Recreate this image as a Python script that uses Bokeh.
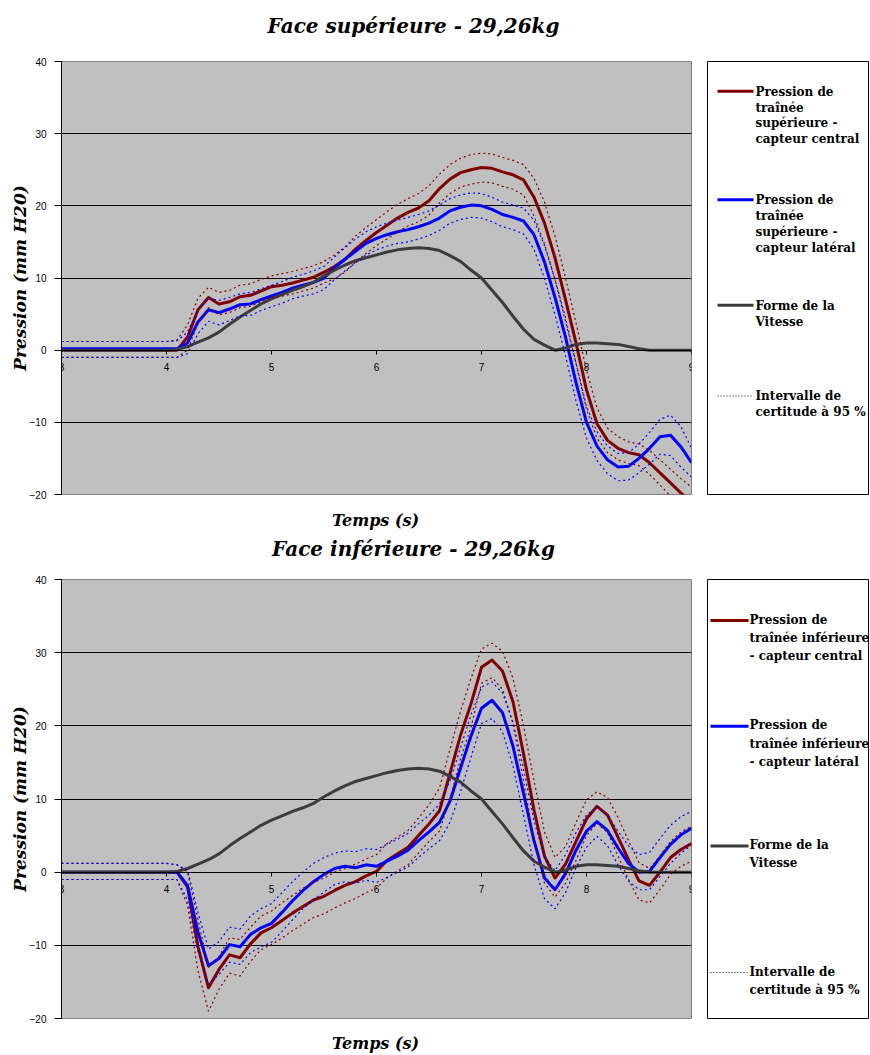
from bokeh.core.properties import value
from bokeh.embed import file_html
from bokeh.layouts import column, row
from bokeh.models import FixedTicker, Range1d
from bokeh.plotting import figure
from bokeh.resources import INLINE

# Time axis (s)
time_s = [3.0, 3.1, 3.2, 3.3, 3.4, 3.5, 3.6, 3.7, 3.8, 3.9,
          4.0, 4.1, 4.2, 4.3, 4.4, 4.5, 4.6, 4.7, 4.8, 4.9,
          5.0, 5.1, 5.2, 5.3, 5.4, 5.5, 5.6, 5.7, 5.8, 5.9,
          6.0, 6.1, 6.2, 6.3, 6.4, 6.5, 6.6, 6.7, 6.8, 6.9,
          7.0, 7.1, 7.2, 7.3, 7.4, 7.5, 7.6, 7.7, 7.8, 7.9,
          8.0, 8.1, 8.2, 8.3, 8.4, 8.5, 8.6, 8.7, 8.8, 8.9, 9.0]

# Speed profile shape (same on both faces)
speed_shape = [0.0, 0.0, 0.0, 0.0, 0.0, 0.0, 0.0, 0.0, 0.0, 0.0,
               0.0, 0.1, 0.5, 1.1, 1.7, 2.5, 3.6, 4.6, 5.5, 6.4,
               7.1, 7.7, 8.3, 8.8, 9.4, 10.3, 11.1, 11.8, 12.4, 12.8,
               13.2, 13.6, 13.9, 14.1, 14.2, 14.1, 13.8, 13.1, 12.3, 11.1,
               10.0, 8.3, 6.6, 4.7, 2.9, 1.5, 0.7, 0.0, 0.3, 0.8,
               1.0, 1.0, 0.9, 0.8, 0.5, 0.2, 0.0, 0.0, 0.0, 0.0, 0.0]

# Upper face - central sensor (mm H2O) with 95 % bounds
sup_central = [0.0, 0.0, 0.0, 0.0, 0.0, 0.0, 0.0, 0.0, 0.0, 0.0,
               0.0, 0.0, 1.8, 5.6, 7.3, 6.4, 6.7, 7.4, 7.6, 8.2,
               8.8, 9.0, 9.3, 9.7, 10.1, 10.8, 11.6, 12.6, 14.0, 15.2,
               16.3, 17.3, 18.3, 19.1, 19.7, 20.7, 22.4, 23.7, 24.6, 25.0,
               25.3, 25.2, 24.7, 24.3, 23.6, 21.2, 17.6, 12.8, 7.0, 1.0,
               -5.5, -10.2, -12.5, -13.6, -14.2, -14.5, -15.6, -17.0, -18.4, -19.8, -21.0]
sup_central_hi = [1.2, 1.2, 1.2, 1.2, 1.2, 1.2, 1.2, 1.2, 1.2, 1.2,
                  1.2, 1.4, 3.5, 7.2, 8.7, 8.0, 8.3, 9.0, 9.2, 9.8,
                  10.3, 10.6, 10.9, 11.3, 11.7, 12.3, 13.2, 14.3, 15.8, 17.0,
                  18.1, 19.2, 20.2, 21.0, 21.7, 22.8, 24.4, 25.7, 26.6, 27.1,
                  27.3, 27.2, 26.7, 26.3, 25.7, 23.8, 20.5, 15.8, 10.0, 3.8,
                  -2.8, -8.0, -10.8, -12.0, -12.7, -13.0, -13.9, -15.2, -16.5, -17.8, -19.0]
sup_central_lo = [-1.0, -1.0, -1.0, -1.0, -1.0, -1.0, -1.0, -1.0, -1.0, -1.0,
                  -1.0, -1.0, 0.0, 3.8, 5.9, 4.9, 5.2, 5.9, 6.1, 6.7,
                  7.3, 7.5, 7.8, 8.2, 8.6, 9.3, 9.9, 10.8, 12.2, 13.4,
                  14.5, 15.4, 16.4, 17.2, 17.8, 18.7, 20.4, 21.7, 22.6, 23.0,
                  23.3, 23.2, 22.7, 22.3, 21.5, 18.6, 14.7, 9.8, 4.0, -1.8,
                  -8.2, -12.2, -14.2, -15.2, -15.7, -16.0, -17.2, -18.7, -20.2, -21.6, -23.0]

# Upper face - lateral sensor
sup_lateral = [0.2, 0.2, 0.2, 0.2, 0.2, 0.2, 0.2, 0.2, 0.2, 0.2,
               0.2, 0.2, 1.0, 3.9, 5.6, 5.2, 5.7, 6.3, 6.4, 7.0,
               7.5, 8.0, 8.6, 9.0, 9.4, 10.0, 11.4, 12.6, 13.7, 14.8,
               15.5, 16.0, 16.4, 16.7, 17.1, 17.6, 18.3, 19.3, 19.8, 20.1,
               20.0, 19.5, 18.8, 18.4, 17.9, 16.0, 12.2, 7.3, 1.8, -4.5,
               -10.0, -13.3, -15.2, -16.2, -16.1, -15.0, -13.6, -12.0, -11.8, -13.4, -15.6]
sup_lateral_hi = [1.2, 1.2, 1.2, 1.2, 1.2, 1.2, 1.2, 1.2, 1.2, 1.2,
                  1.2, 1.3, 2.5, 5.6, 7.2, 6.9, 7.3, 7.8, 8.0, 8.5,
                  9.0, 9.5, 10.1, 10.5, 11.0, 11.6, 12.9, 14.2, 15.4, 16.4,
                  17.1, 17.6, 18.0, 18.4, 18.8, 19.3, 20.1, 21.0, 21.5, 21.8,
                  21.7, 21.2, 20.5, 20.1, 19.7, 18.0, 14.5, 9.8, 4.5, -1.8,
                  -7.8, -11.3, -13.3, -14.3, -14.2, -13.0, -11.4, -9.6, -9.0, -10.6, -13.6]
sup_lateral_lo = [-1.0, -1.0, -1.0, -1.0, -1.0, -1.0, -1.0, -1.0, -1.0, -1.0,
                  -1.0, -1.0, -0.5, 2.3, 4.0, 3.5, 4.1, 4.8, 4.8, 5.5,
                  6.0, 6.5, 7.1, 7.5, 7.8, 8.4, 9.8, 11.0, 12.1, 13.2,
                  13.9, 14.4, 14.8, 15.0, 15.4, 15.9, 16.6, 17.6, 18.1, 18.4,
                  18.3, 17.8, 17.1, 16.7, 16.1, 14.0, 9.9, 4.9, -0.8, -7.0,
                  -12.2, -15.3, -17.1, -18.1, -18.0, -17.0, -15.8, -14.4, -14.6, -16.2, -17.6]

# Lower face - central sensor
inf_central = [0.0, 0.0, 0.0, 0.0, 0.0, 0.0, 0.0, 0.0, 0.0, 0.0,
               0.0, 0.0, -2.0, -10.2, -15.8, -13.3, -11.3, -11.7, -9.8, -8.3,
               -7.6, -6.6, -5.6, -4.7, -3.8, -3.3, -2.5, -1.8, -1.3, -0.5,
               0.1, 1.6, 2.5, 3.4, 5.0, 6.6, 8.4, 13.5, 18.7, 23.0,
               28.0, 29.0, 27.5, 23.3, 16.2, 8.5, 2.2, -0.8, 1.1, 4.2,
               7.3, 9.0, 7.8, 4.8, 1.7, -1.2, -1.8, 0.0, 2.0, 3.1, 3.9]
inf_central_hi = [1.2, 1.2, 1.2, 1.2, 1.2, 1.2, 1.2, 1.2, 1.2, 1.2,
                  1.2, 1.0, 0.0, -6.5, -13.0, -11.5, -9.0, -9.2, -7.5, -6.0,
                  -5.3, -4.2, -3.2, -2.2, -1.4, -0.8, 0.0, 0.5, 1.1, 1.8,
                  2.4, 3.9, 4.8, 5.7, 7.4, 9.2, 11.5, 16.8, 22.0, 26.5,
                  30.5, 31.3, 30.2, 26.5, 20.0, 12.5, 5.5, 2.0, 3.5, 6.8,
                  9.9, 11.0, 10.2, 7.5, 4.3, 1.3, 0.5, 2.2, 4.2, 5.5, 6.3]
inf_central_lo = [-1.0, -1.0, -1.0, -1.0, -1.0, -1.0, -1.0, -1.0, -1.0, -1.0,
                  -1.0, -1.0, -4.5, -13.5, -19.0, -16.0, -13.8, -14.2, -12.2, -10.6,
                  -9.9, -9.0, -8.0, -7.1, -6.2, -5.7, -4.9, -4.2, -3.6, -2.8,
                  -2.2, -0.8, 0.2, 1.0, 2.6, 4.2, 5.6, 10.0, 15.5, 19.8,
                  25.8, 26.6, 25.0, 20.3, 12.5, 4.5, -1.5, -3.4, -1.5, 1.6,
                  5.0, 6.7, 5.4, 2.2, -1.0, -3.8, -4.2, -2.4, -0.3, 0.8, 1.5]

# Lower face - lateral sensor
inf_lateral = [0.0, 0.0, 0.0, 0.0, 0.0, 0.0, 0.0, 0.0, 0.0, 0.0,
               0.0, 0.0, -1.8, -8.2, -12.8, -11.8, -9.9, -10.2, -8.5, -7.6,
               -7.0, -5.5, -3.9, -2.5, -1.3, -0.3, 0.5, 0.8, 0.6, 1.0,
               0.8, 1.5, 2.2, 3.0, 4.3, 5.5, 6.8, 9.7, 14.2, 18.6,
               22.4, 23.5, 21.8, 17.2, 10.8, 4.3, -0.8, -2.4, -0.2, 3.0,
               5.6, 6.9, 5.7, 3.3, 1.2, 0.0, 0.1, 2.0, 3.8, 5.1, 6.0]
inf_lateral_hi = [1.2, 1.2, 1.2, 1.2, 1.2, 1.2, 1.2, 1.2, 1.2, 1.2,
                  1.2, 1.0, 0.3, -5.5, -10.5, -9.5, -7.5, -7.8, -6.0, -5.0,
                  -4.3, -2.8, -1.3, 0.0, 1.2, 2.0, 2.6, 2.9, 2.8, 3.2,
                  3.1, 3.8, 4.5, 5.3, 6.6, 7.8, 9.3, 12.5, 17.0, 21.5,
                  25.3, 26.0, 24.5, 20.5, 14.2, 7.0, 2.0, 0.2, 2.4, 5.4,
                  7.8, 8.9, 7.8, 5.6, 3.6, 2.4, 2.7, 4.6, 6.4, 7.6, 8.3]
inf_lateral_lo = [-1.0, -1.0, -1.0, -1.0, -1.0, -1.0, -1.0, -1.0, -1.0, -1.0,
                  -1.0, -1.0, -3.8, -10.8, -15.3, -14.0, -12.3, -12.6, -11.0, -10.2,
                  -9.6, -8.1, -6.5, -5.0, -3.8, -2.7, -1.7, -1.3, -1.5, -1.1,
                  -1.4, -0.7, 0.0, 0.7, 2.0, 3.2, 4.3, 6.8, 11.0, 15.7,
                  20.3, 21.0, 19.2, 14.5, 7.8, 1.0, -3.6, -5.0, -2.8, 0.6,
                  3.4, 4.9, 3.6, 1.0, -1.2, -2.4, -2.4, -0.6, 1.2, 2.6, 3.7]

y_ticks = [-20, -10, 0, 10, 20, 30, 40]
x_ticks = [3, 4, 5, 6, 7, 8, 9]

sup_labels = ["Pression de\ntraînée\nsupérieure -\ncapteur central",
              "Pression de\ntraînée\nsupérieure -\ncapteur latéral",
              "Forme de la\nVitesse",
              "Intervalle de\ncertitude à 95 %"]
inf_labels = ["Pression de\ntraînée inférieure\n- capteur central",
              "Pression de\ntraînée inférieure\n- capteur latéral",
              "Forme de la\nVitesse",
              "Intervalle de\ncertitude à 95 %"]

RED = "#800000"
BLUE = "#0000FF"
GREY = "#3C3C3C"
SERIF = "DejaVu Serif"
SANS = "Liberation Sans"
PAGE_W = 870


def text_strip(height, entries):
    """A blank band of the page holding centred titles; entries are (x, y, text, size)."""
    s = figure(width=PAGE_W, height=height, x_range=Range1d(0, PAGE_W), y_range=Range1d(height, 0),
               output_backend="svg", toolbar_location=None,
               min_border_left=0, min_border_right=0, min_border_top=0, min_border_bottom=0)
    s.xaxis.visible = False
    s.yaxis.visible = False
    s.grid.visible = False
    s.outline_line_color = None
    s.background_fill_color = "white"
    for x, y, text, size in entries:
        s.text(x=[x], y=[y], text=[text], text_font=value(SERIF),
               text_font_style="bold italic", text_font_size=size,
               text_align="center", text_baseline="middle", text_color="black")
    return s


def pressure_chart(central, central_hi, central_lo, lateral, lateral_hi, lateral_lo,
                   height, top, frame_h):
    p = figure(width=700, height=height, x_range=Range1d(3, 9), y_range=Range1d(-20, 40),
               output_backend="svg", toolbar_location=None,
               min_border_left=61, min_border_right=9,
               min_border_top=top, min_border_bottom=height - top - frame_h)
    p.background_fill_color = "#C0C0C0"
    p.border_fill_color = "white"
    p.outline_line_color = "#808080"
    p.outline_line_width = 1

    # value lines
    p.line(time_s, central, line_color=RED, line_width=3, line_join="round")
    p.line(time_s, lateral, line_color=BLUE, line_width=3, line_join="round")
    p.line(time_s, speed_shape, line_color=GREY, line_width=3, line_join="round")
    # 95 % bounds
    for series, color in ((central_hi, RED), (central_lo, RED),
                          (lateral_hi, BLUE), (lateral_lo, BLUE)):
        p.line(time_s, series, line_color=color, line_width=1.2, line_dash="2 3")

    p.xgrid.visible = False
    p.ygrid.ticker = FixedTicker(ticks=y_ticks)
    p.ygrid.grid_line_color = "black"
    p.ygrid.grid_line_width = 1

    # time axis drawn along the zero line
    xa = p.xaxis[0]
    xa.ticker = FixedTicker(ticks=x_ticks)
    xa.fixed_location = 0
    xa.axis_line_color = "black"
    xa.major_tick_in = 0
    xa.major_tick_out = 4
    xa.minor_tick_line_color = None
    xa.major_label_standoff = 9
    xa.major_label_text_font = SANS
    xa.major_label_text_font_size = "10px"
    xa.major_label_text_color = "black"

    ya = p.yaxis[0]
    ya.ticker = FixedTicker(ticks=y_ticks)
    ya.axis_line_color = "black"
    ya.major_tick_in = 0
    ya.major_tick_out = 7
    ya.minor_tick_line_color = None
    ya.major_label_standoff = 8
    ya.major_label_text_font = SANS
    ya.major_label_text_font_size = "10px"
    ya.major_label_text_color = "black"
    ya.axis_label = "Pression (mm H20)"
    ya.axis_label_standoff = -3
    ya.axis_label_text_font = SERIF
    ya.axis_label_text_font_style = "bold italic"
    ya.axis_label_text_font_size = "17px"
    ya.axis_label_text_color = "black"
    return p


def legend_panel(labels, height, top, frame_h, swatch_x, text_x, rows_y, font_px, line_h):
    lg = figure(width=170, height=height, x_range=Range1d(0, 161), y_range=Range1d(frame_h, 0),
                output_backend="svg", toolbar_location=None,
                min_border_left=7, min_border_right=2,
                min_border_top=top, min_border_bottom=height - top - frame_h)
    lg.xaxis.visible = False
    lg.yaxis.visible = False
    lg.grid.visible = False
    lg.background_fill_color = "white"
    lg.outline_line_color = "black"
    lg.outline_line_width = 1
    styles = ((RED, 3, "solid"), (BLUE, 3, "solid"), (GREY, 3, "solid"), ("black", 1, "1 2"))
    for label, y, (color, width, dash) in zip(labels, rows_y, styles):
        lg.line(swatch_x, [y, y], line_color=color, line_width=width, line_dash=dash)
        lg.text(x=[text_x], y=[y - font_px * line_h / 2], text=[label],
                text_font=value(SERIF), text_font_style="bold",
                text_font_size=f"{font_px}px", text_baseline="top",
                text_align="left", text_line_height=line_h, text_color="black")
    return lg


head = text_strip(52, [(413, 25, "Face supérieure - 29,26kg", "20px")])

upper = pressure_chart(sup_central, sup_central_hi, sup_central_lo,
                       sup_lateral, sup_lateral_hi, sup_lateral_lo,
                       height=453, top=6, frame_h=436)
upper_leg = legend_panel(sup_labels, height=453, top=9, frame_h=435,
                         swatch_x=[10, 46], text_x=48, rows_y=[30, 139, 245, 336],
                         font_px=12, line_h=1.14)

middle = text_strip(66, [(375, 15, "Temps (s)", "16px"),
                         (413, 43, "Face inférieure - 29,26kg", "20px")])

lower = pressure_chart(inf_central, inf_central_hi, inf_central_lo,
                       inf_lateral, inf_lateral_hi, inf_lateral_lo,
                       height=459, top=6, frame_h=441)
lower_leg = legend_panel(inf_labels, height=459, top=8, frame_h=440,
                         swatch_x=[3, 41], text_x=42, rows_y=[41, 147, 267, 394],
                         font_px=12, line_h=1.3)

foot = text_strip(25, [(375, 13, "Temps (s)", "16px")])

layout = column(head, row(upper, upper_leg), middle, row(lower, lower_leg), foot)

with open("out.html", "w") as f:
    f.write(file_html(layout, INLINE))
